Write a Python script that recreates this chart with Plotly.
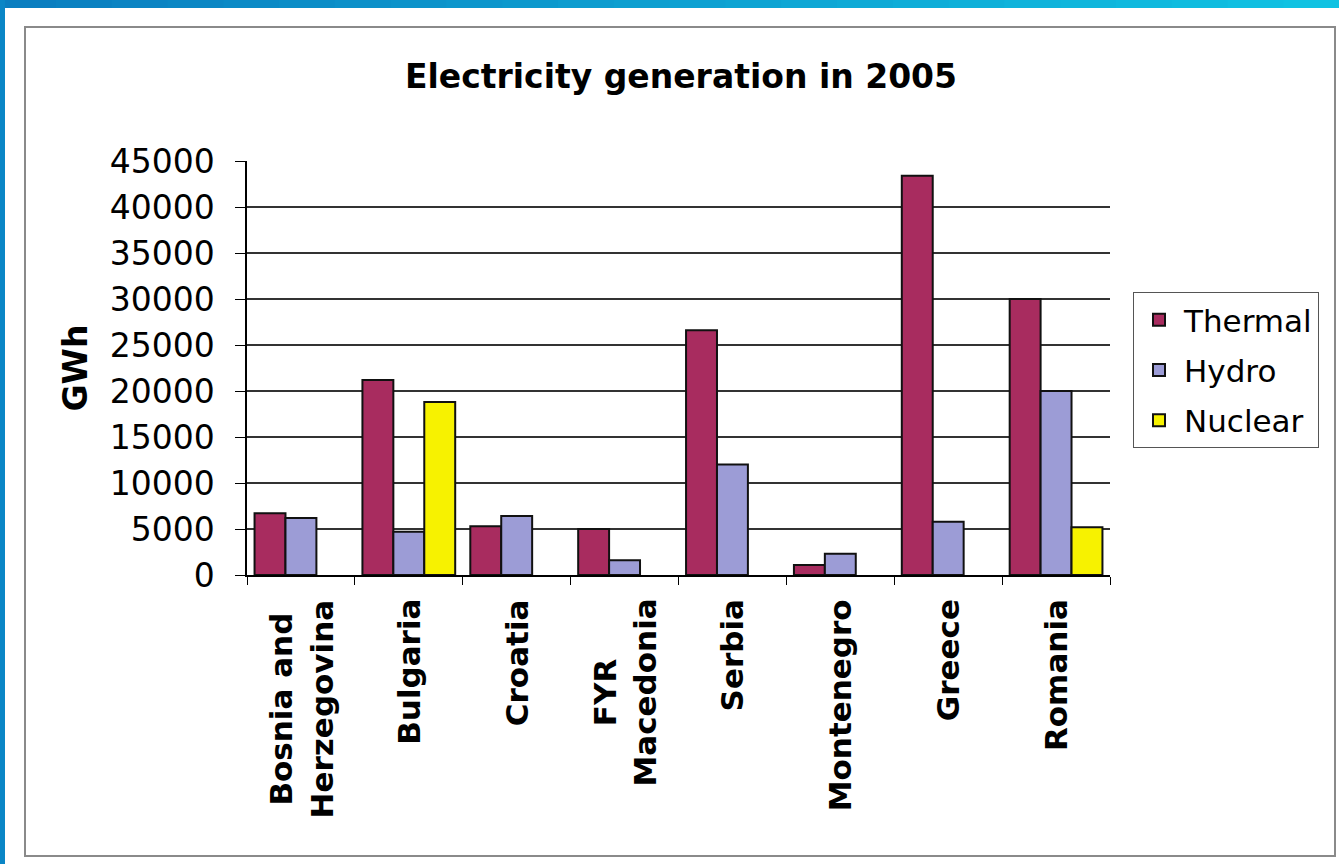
import plotly.graph_objects as go

countries = ["Bosnia and<br>Herzegovina", "Bulgaria", "Croatia", "FYR<br>Macedonia",
             "Serbia", "Montenegro", "Greece", "Romania"]
thermal = [6700, 21200, 5300, 5000, 26600, 1100, 43400, 30000]
hydro = [6200, 4700, 6400, 1600, 12000, 2300, 5800, 20000]
nuclear = [0, 18800, 0, 0, 0, 0, 0, 5200]
series_names = ["Thermal", "Hydro", "Nuclear"]
series_colors = ["#A82C5F", "#9C9CD6", "#F7F200"]
y_ticks = [0, 5000, 10000, 15000, 20000, 25000, 30000, 35000, 40000, 45000]

W, H = 1339, 864
L, R, T, B = 247, 1110, 161, 575

fig = go.Figure()
for name, vals, col in zip(series_names, [thermal, hydro, nuclear], series_colors):
    fig.add_trace(go.Bar(
        name=name, x=countries, y=[v if v else None for v in vals], legendgroup=name,
        marker=dict(color=col, line=dict(color="#111111", width=2)),
    ))

# category labels as rotated annotations (centered lines)
for c in countries:
    fig.add_annotation(
        x=c, xref="x", y=0, yref="paper", yanchor="top", yshift=-22,
        text=c, textangle=-90, showarrow=False, align="center",
        font=dict(family="DejaVu Sans", size=31, color="black", weight="bold"),
    )

def px(xp):
    return (xp - L) / (R - L)

def py(yp):
    return (B - yp) / (B - T)

shapes = []
steps = 24
c0 = (10, 126, 192)
c1 = (16, 194, 226)
for i in range(steps):
    t = i / (steps - 1)
    col = "rgb(%d,%d,%d)" % tuple(round(a + (b - a) * t) for a, b in zip(c0, c1))
    shapes.append(dict(type="rect", xref="paper", yref="paper",
                       x0=px(W * i / steps), x1=px(W * (i + 1) / steps + 1),
                       y0=py(8), y1=py(0), fillcolor=col, line=dict(width=0), layer="above"))
shapes.append(dict(type="rect", xref="paper", yref="paper",
                   x0=px(0), x1=px(5), y0=py(H), y1=py(0),
                   fillcolor="rgb(10,134,198)", line=dict(width=0), layer="above"))
shapes.append(dict(type="rect", xref="paper", yref="paper",
                   x0=px(25), x1=px(1335), y0=py(856), y1=py(27),
                   fillcolor="rgba(0,0,0,0)", line=dict(color="#8a8a8a", width=2), layer="below"))

fig.update_layout(
    width=W, height=H,
    margin=dict(l=L, r=W - R, t=T, b=H - B, pad=0),
    paper_bgcolor="white", plot_bgcolor="white",
    barmode="group", bargap=0.14, bargroupgap=0,
    shapes=shapes,
    title=dict(text="<b>Electricity generation in 2005</b>", x=px(681), xref="paper",
               xanchor="center", y=1 - 76 / H, yref="container", yanchor="middle",
               font=dict(family="DejaVu Sans", size=33, color="black")),
    legend=dict(x=px(1133), y=py(292), xanchor="left", yanchor="top",
                bordercolor="#555555", borderwidth=1, bgcolor="white",
                font=dict(family="DejaVu Sans", size=31, color="black"),
                tracegroupgap=7, traceorder="grouped", itemwidth=40),
    font=dict(family="DejaVu Sans", color="black"),
)
fig.update_xaxes(showticklabels=False, showline=True, linecolor="black", linewidth=1.5,
                 ticks="outside", tickson="boundaries", ticklen=8, tickcolor="black",
                 tickwidth=1.2, showgrid=False)
fig.update_yaxes(range=[0, 45000], tickvals=y_ticks, ticktext=[str(v) for v in y_ticks],
                 showline=True, linecolor="black", linewidth=1.5,
                 ticks="outside", ticklen=10, tickcolor="black", tickwidth=1.2,
                 showgrid=True, gridcolor="#333333", gridwidth=1.5, zeroline=False,
                 ticklabelstandoff=14,
                 tickfont=dict(family="DejaVu Sans", size=33, color="black"),
                 title=dict(text="<b>GWh</b>", standoff=12,
                            font=dict(family="DejaVu Sans", size=33, color="black")))

fig.write_html("out.html")
